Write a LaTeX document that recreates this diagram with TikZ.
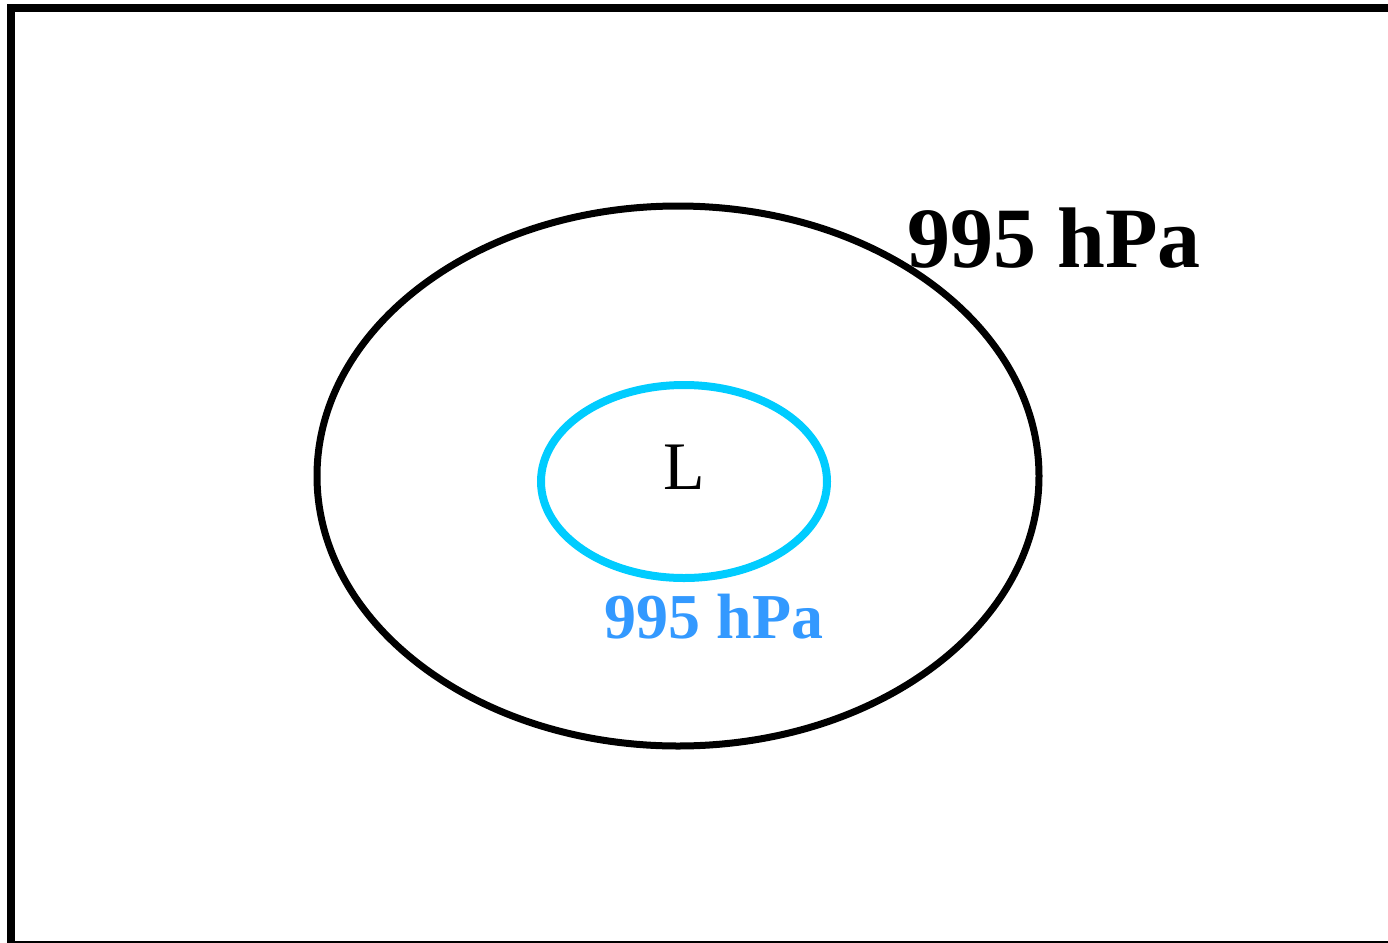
\documentclass[tikz,border=0pt]{standalone}
\usepackage{fontspec}
\setmainfont{Liberation Serif}
\definecolor{isocyan}{HTML}{00CCFF}
\definecolor{isoblue}{HTML}{3399FF}
\tikzset{
  frameline/.style={draw=black, line width=4pt},
  outeriso/.style={draw=black, line width=3.5pt},
  inneriso/.style={draw=isocyan, line width=4pt},
  biglabel/.style={font=\fontsize{43}{50}\selectfont\bfseries, inner sep=0pt, anchor=base},
  smalllabel/.style={font=\fontsize{32}{40}\selectfont\bfseries, text=isoblue, inner sep=0pt, anchor=base},
  lowlabel/.style={font=\fontsize{34}{40}\selectfont, inner sep=0pt, anchor=base}
}
\begin{document}
\begin{tikzpicture}[x=0.5pt,y=-0.5pt]
\useasboundingbox (0,0) rectangle (1388,943);
\clip (0,0) rectangle (1388,943);
\draw[frameline] (11,7.5) rectangle (1410,945);
\draw[outeriso] (678,476) ellipse [x radius=361, y radius=270];
\draw[inneriso] (684,481.5) ellipse [x radius=143, y radius=96.5];
\node[lowlabel] (L) at (684,489) {L};
\node[biglabel] (outerlab) at (1054,267) {995 hPa};
\node[smalllabel] (innerlab) at (714,638) {995 hPa};
\end{tikzpicture}
\end{document}
